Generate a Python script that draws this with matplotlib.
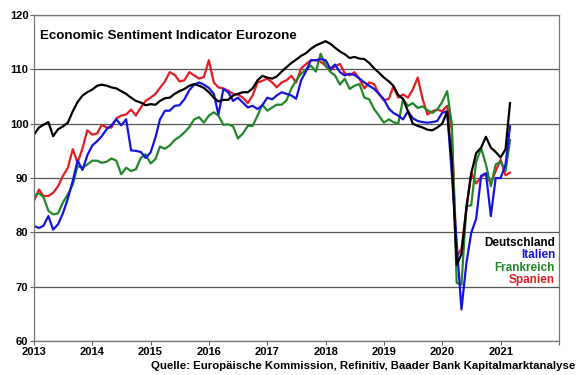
import numpy as np
import pandas as pd
import matplotlib
matplotlib.use("Agg")
import matplotlib.pyplot as plt
import matplotlib.dates as mdates

plt.rcParams['font.family'] = ['Liberation Sans', 'DejaVu Sans']

# monthly values, Jan 2013 - Mar 2021
deutschland = [98.0, 99.3, 99.8, 100.3, 97.7, 99.0, 99.5, 100.2, 102.3, 104.0, 105.2, 105.8,
               106.3, 107.0, 107.2, 107.0, 106.7, 106.5, 106.0, 105.5, 104.8, 104.2, 103.9, 103.4,
               103.6, 103.5, 104.2, 104.7, 104.8, 105.5, 106.0, 106.4, 107.0, 107.3, 107.0, 106.6,
               105.8, 104.8, 104.1, 104.4, 104.4, 105.2, 105.5, 105.8, 105.8, 106.5, 108.0, 108.8,
               108.5, 108.3, 108.7, 109.6, 110.4, 111.2, 111.8, 112.5, 113.0, 113.8, 114.4, 114.8,
               115.2, 114.7, 114.0, 113.3, 112.8, 112.1, 112.3, 112.0, 111.9, 111.2, 110.2, 109.4,
               108.5, 107.8, 107.0, 105.3, 104.6, 102.3, 100.0, 99.6, 99.3, 98.9, 98.8, 99.3,
               100.0, 102.2, 93.5, 74.0, 76.0, 84.5, 90.8, 94.6, 95.6, 97.6, 95.6, 94.8,
               93.8, 95.3, 103.8]

italien = [81.2, 80.8, 81.2, 83.0, 80.5, 81.5, 83.5, 86.2, 89.5, 93.2, 91.5, 94.2,
           96.0, 96.8, 97.7, 99.0, 99.7, 100.8, 99.7, 100.8, 95.1, 95.0, 94.8, 93.7,
           94.7, 97.5, 100.8, 102.4, 102.4, 103.3, 103.4, 104.5, 106.2, 107.2, 107.6, 107.2,
           106.6, 105.5, 101.7, 106.4, 105.8, 104.2, 104.8, 103.9, 103.0, 103.3, 102.7, 103.4,
           104.8, 104.5, 105.2, 105.8, 105.5, 105.2, 104.6, 108.0, 109.7, 111.7, 111.7, 111.9,
           111.7, 110.1, 110.9, 109.5, 108.9, 109.2, 109.0, 108.3, 107.6, 107.0, 106.4, 105.5,
           104.5, 102.8, 102.0, 101.5, 100.8, 102.3, 101.0, 100.5, 100.3, 100.2, 100.3, 100.5,
           102.0, 102.3, 91.0, 78.0, 65.8, 74.4, 79.9, 82.5, 90.4, 90.9, 83.0, 90.0,
           90.0, 92.5, 99.5]

frankreich = [86.7, 87.2, 86.5, 84.0, 83.3, 83.5, 85.5, 87.0, 88.8, 92.2, 91.9, 92.5,
              93.2, 93.2, 92.8, 93.0, 93.6, 93.2, 90.7, 91.9, 91.3, 91.6, 93.7, 94.4,
              92.7, 93.5, 95.8, 95.4, 96.0, 97.0, 97.6, 98.4, 99.4, 100.8, 101.2, 100.2,
              101.5, 102.1, 101.5, 99.8, 99.9, 99.5, 97.3, 98.2, 99.6, 99.6, 101.5, 103.5,
              102.4, 103.0, 103.5, 103.5, 104.3, 106.5, 108.0, 109.2, 110.0, 110.7, 109.6, 112.9,
              110.7, 109.5, 108.9, 107.2, 108.3, 106.4, 107.0, 107.3, 104.8, 104.5, 102.7, 101.5,
              100.2, 100.8, 100.3, 100.0, 104.5, 103.3, 103.8, 102.9, 103.2, 102.5, 102.0, 102.6,
              104.0, 106.0, 100.1, 70.7, 70.4, 84.8, 85.0, 93.0, 95.5, 92.5, 88.5, 92.5,
              93.0, 91.3, 97.0]

spanien = [85.8, 87.9, 86.7, 86.7, 87.3, 88.5, 90.4, 91.9, 95.3, 92.8, 95.5, 98.8,
           98.0, 98.2, 99.8, 99.3, 99.3, 101.0, 101.5, 101.7, 102.6, 101.5, 103.0, 104.2,
           104.8, 105.5, 106.6, 107.8, 109.5, 109.0, 107.8, 108.0, 109.5, 108.9, 108.3, 108.6,
           111.7, 107.6, 106.7, 106.5, 106.1, 105.5, 105.4, 104.8, 103.8, 105.2, 107.6, 107.9,
           108.3, 107.6, 106.7, 107.6, 108.0, 108.8, 107.6, 110.2, 111.0, 111.7, 111.7, 111.4,
           110.7, 109.8, 110.6, 111.0, 109.3, 108.9, 109.5, 108.3, 106.5, 107.6, 107.3, 105.5,
           104.3, 104.6, 106.8, 104.8, 105.4, 104.8, 106.3, 108.5, 104.5, 101.7, 102.3, 102.6,
           102.3, 103.3, 99.0, 75.5, 77.0, 84.5, 91.0, 89.0, 90.2, 90.8, 89.0, 91.3,
           93.4, 90.5, 91.0]

dates = pd.date_range('2013-01-01', periods=len(deutschland), freq='MS')
years = list(range(2013, 2022))

fig = plt.figure(figsize=(5.8, 3.75), dpi=100)
ax = fig.add_axes([0.0586, 0.0907, 0.905, 0.869])

ax.plot(dates, spanien, color='#e51c23', lw=1.6)
ax.plot(dates, frankreich, color='#23872a', lw=1.6)
ax.plot(dates, italien, color='#1414e0', lw=1.6)
ax.plot(dates, deutschland, color='black', lw=1.6)

ax.set_ylim(60, 120)
ax.set_yticks(range(60, 121, 10))
ax.set_xlim(pd.Timestamp('2013-01-01'), pd.Timestamp('2022-01-01'))
ax.set_xticks([pd.Timestamp(f'{y}-01-01') for y in years + [2022]])
ax.set_xticklabels([str(y) for y in years] + [''])
for lab in ax.get_xticklabels() + ax.get_yticklabels():
    lab.set_fontweight('bold')
    lab.set_fontsize(8)
ax.tick_params(axis='both', length=3, width=0.8, color='#666666', pad=1)

ax.yaxis.grid(True, color='#555555', lw=0.9)
ax.set_axisbelow(True)
for s in ax.spines.values():
    s.set_color('#777777')
    s.set_linewidth(0.9)

ax.text(0.012, 0.955, 'Economic Sentiment Indicator Eurozone', transform=ax.transAxes,
        fontsize=9.6, fontweight='bold', va='top', ha='left')

legend_items = [('Deutschland', 'black'), ('Italien', '#1414e0'),
                ('Frankreich', '#23872a'), ('Spanien', '#e51c23')]
for i, (name, col) in enumerate(legend_items):
    fig.text(0.957, 1 - (243 + i * 12.3) / 375, name, color=col, fontsize=8.5,
             fontweight='bold', ha='right', va='center')

fig.text(0.992, 1 - 366 / 375,
         'Quelle: Europäische Kommission, Refinitiv, Baader Bank Kapitalmarktanalyse',
         fontsize=8.2, fontweight='bold', ha='right', va='center')

fig.savefig('out.png', dpi=100)
